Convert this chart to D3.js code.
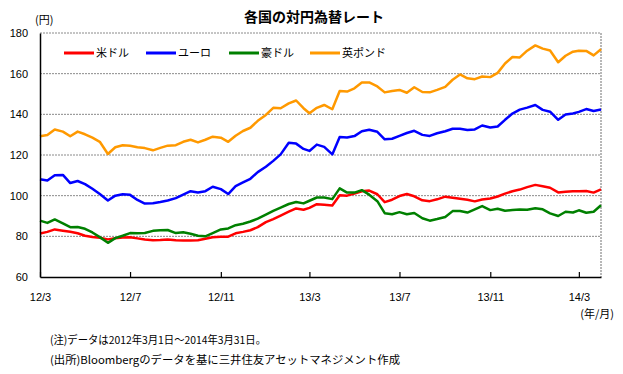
<!DOCTYPE html>
<html>
<head>
<meta charset="utf-8">
<script src="https://cdn.jsdelivr.net/npm/d3@7"></script>
<style>
  body { margin: 0; background: #fff; }
  svg { display: block; font-family: "Noto Sans CJK JP", "Noto Sans", sans-serif; }
</style>
</head>
<body>
<svg id="chart" width="623" height="374"></svg>
<script>
// sample dates (1st, 11th, 21st of each month)
const dates = [
  "2012-03-01","2012-03-11","2012-03-21","2012-04-01","2012-04-11","2012-04-21",
  "2012-05-01","2012-05-11","2012-05-21","2012-06-01","2012-06-11","2012-06-21",
  "2012-07-01","2012-07-11","2012-07-21","2012-08-01","2012-08-11","2012-08-21",
  "2012-09-01","2012-09-11","2012-09-21","2012-10-01","2012-10-11","2012-10-21",
  "2012-11-01","2012-11-11","2012-11-21","2012-12-01","2012-12-11","2012-12-21",
  "2013-01-01","2013-01-11","2013-01-21","2013-02-01","2013-02-11","2013-02-21",
  "2013-03-01","2013-03-11","2013-03-21","2013-04-01","2013-04-11","2013-04-21",
  "2013-05-01","2013-05-11","2013-05-21","2013-06-01","2013-06-11","2013-06-21",
  "2013-07-01","2013-07-11","2013-07-21","2013-08-01","2013-08-11","2013-08-21",
  "2013-09-01","2013-09-11","2013-09-21","2013-10-01","2013-10-11","2013-10-21",
  "2013-11-01","2013-11-11","2013-11-21","2013-12-01","2013-12-11","2013-12-21",
  "2014-01-01","2014-01-11","2014-01-21","2014-02-01","2014-02-11","2014-02-21",
  "2014-03-01","2014-03-11","2014-03-21","2014-03-31"
];

const usd = [
  81.4, 82.2, 83.4, 82.8, 82.3, 81.5, 80.3, 79.7, 79.3, 78.5, 79.1, 79.4,
  79.6, 79.0, 78.4, 78.1, 78.2, 78.5, 78.1, 77.9, 77.9, 78.1, 78.8, 79.5,
  79.8, 79.8, 81.5, 82.2, 83.0, 84.5, 87.0, 88.5, 90.2, 92.1, 93.7, 93.1,
  94.0, 95.8, 95.5, 95.2, 100.2, 100.0, 101.0, 102.2, 102.5, 100.7, 96.8, 98.0,
  99.8, 100.8, 99.7, 97.7, 97.3, 98.2, 99.5, 99.0, 98.5, 98.0, 97.2, 98.1,
  98.6, 99.6, 101.0, 102.2, 103.0, 104.2, 105.3, 104.6, 103.9, 101.6, 101.9, 102.2,
  102.2, 102.3, 101.5, 103.1
];
const eur = [
  108.1, 107.5, 110.0, 110.2, 106.2, 107.2, 105.7, 103.4, 100.8, 97.6, 100.0, 100.7,
  100.4, 97.9, 96.1, 96.3, 96.9, 97.6, 98.8, 100.5, 102.2, 101.6, 102.2, 104.4,
  103.2, 100.8, 104.7, 106.5, 108.3, 111.6, 114.2, 117.1, 120.3, 126.0, 125.6, 123.0,
  122.0, 125.1, 124.0, 120.3, 128.8, 128.6, 129.3, 131.7, 132.4, 131.4, 127.7, 128.0,
  129.4, 130.8, 131.9, 129.9, 129.4, 130.7, 131.7, 132.9, 132.9, 132.3, 132.6, 134.5,
  133.5, 134.0, 137.3, 140.4, 142.3, 143.3, 144.6, 142.2, 141.3, 137.3, 139.9, 140.4,
  141.2, 142.6, 141.6, 142.4
];
const aud = [
  87.7, 86.6, 88.3, 86.4, 84.5, 84.6, 83.7, 81.9, 79.6, 76.8, 79.1, 80.3,
  81.6, 81.5, 81.6, 82.7, 83.0, 83.1, 81.6, 82.0, 81.3, 80.3, 80.0, 81.6,
  83.4, 83.9, 85.5, 86.2, 87.3, 88.7, 90.7, 92.5, 94.1, 95.9, 96.9, 96.2,
  97.5, 99.1, 99.1, 98.3, 103.6, 101.5, 101.5, 102.7, 100.5, 97.3, 91.4, 90.9,
  91.9, 90.9, 91.5, 88.9, 87.7, 88.5, 89.5, 92.4, 92.5, 91.7, 93.3, 94.9,
  92.9, 93.6, 92.6, 92.9, 93.2, 93.1, 93.8, 93.3, 91.3, 90.0, 92.1, 91.7,
  92.8, 91.6, 92.1, 95.3
];
const gbp = [
  129.2, 129.8, 132.5, 131.5, 129.2, 131.5, 130.2, 128.5, 126.5, 120.5, 123.8, 124.8,
  124.5, 123.8, 123.4, 122.3, 123.5, 124.6, 124.8, 126.5, 127.5, 126.2, 127.5, 129.0,
  128.5, 126.5, 129.5, 131.8, 133.4, 136.8, 139.7, 143.2, 143.0, 145.4, 146.8, 143.0,
  140.5, 143.2, 144.6, 142.5, 151.5, 151.2, 152.8, 155.6, 155.7, 153.7, 150.8, 151.5,
  152.0, 150.6, 153.3, 151.0, 150.8, 152.0, 153.5, 157.0, 159.6, 157.7, 157.3, 158.6,
  158.3, 160.4, 165.0, 168.2, 168.0, 171.3, 173.9, 172.3, 171.4, 165.6, 168.8, 170.8,
  171.3, 171.2, 169.0, 172.0
];

const seriesNames = ["米ドル", "ユーロ", "豪ドル", "英ポンド"];
const seriesColors = ["#ff0000", "#0000ff", "#008000", "#ff9900"];
const seriesValues = [usd, eur, aud, gbp];

const yTicks = [60, 80, 100, 120, 140, 160, 180];
const xTicks = ["2012-03-01", "2012-07-01", "2012-11-01", "2013-03-01", "2013-07-01", "2013-11-01", "2014-03-01"];

const notes = [
  "(注)データは2012年3月1日～2014年3月31日。",
  "(出所)Bloombergのデータを基に三井住友アセットマネジメント作成"
];
const noteWidths = [216, 350];

const parse = d3.timeParse("%Y-%m-%d");
const svg = d3.select("#chart");

const margin = { left: 40, right: 22, top: 33, bottom: 97 };
const W = 623, H = 374;

const x = d3.scaleTime()
  .domain([parse("2012-03-01"), parse("2014-03-31")])
  .range([margin.left, W - margin.right]);
const y = d3.scaleLinear()
  .domain([60, 180])
  .range([H - margin.bottom, margin.top]);

// grid lines
svg.append("g")
  .selectAll("line")
  .data(yTicks.filter(v => v > 60))
  .join("line")
  .attr("x1", x.range()[0]).attr("x2", x.range()[1])
  .attr("y1", d => y(d)).attr("y2", d => y(d))
  .attr("stroke", "#8a8a8a")
  .attr("stroke-dasharray", "2,1")
  .attr("stroke-width", 1);

// right border
svg.append("line")
  .attr("x1", x.range()[1]).attr("x2", x.range()[1])
  .attr("y1", y(180)).attr("y2", y(60))
  .attr("stroke", "#707070")
  .attr("stroke-dasharray", "2,1");

// lines
const line = d3.line()
  .x((d, i) => x(parse(dates[i])))
  .y(d => y(d));

seriesValues.forEach((vals, i) => {
  svg.append("path")
    .datum(vals)
    .attr("fill", "none")
    .attr("stroke", seriesColors[i])
    .attr("stroke-width", 2.5)
    .attr("stroke-linejoin", "round")
    .attr("d", line);
});

// axes
const yAxis = svg.append("g")
  .attr("transform", `translate(${margin.left},0)`)
  .call(d3.axisLeft(y).tickValues(yTicks).tickSize(0).tickPadding(12));
yAxis.select(".domain").attr("stroke", "#000").attr("stroke-width", 1.5);
yAxis.selectAll("text").attr("font-size", 11).attr("fill", "#000");

const xAxis = svg.append("g")
  .attr("transform", `translate(0,${H - margin.bottom})`)
  .call(d3.axisBottom(x)
    .tickValues(xTicks.map(parse))
    .tickFormat(d3.timeFormat("%y/%-m"))
    .tickSizeInner(-5).tickSizeOuter(0).tickPadding(16));
xAxis.select(".domain").attr("stroke", "#000").attr("stroke-width", 1.5);
xAxis.selectAll(".tick line").attr("stroke", "#000").attr("stroke-width", 1.2);
xAxis.selectAll("text").attr("font-size", 11).attr("fill", "#000");

// title
svg.append("text")
  .attr("x", 314).attr("y", 22)
  .attr("text-anchor", "middle")
  .attr("font-size", 14).attr("font-weight", "bold")
  .text("各国の対円為替レート");

svg.append("text")
  .attr("x", 35).attr("y", 24)
  .attr("font-size", 11)
  .text("(円)");

svg.append("text")
  .attr("x", 614).attr("y", 318)
  .attr("text-anchor", "end")
  .attr("font-size", 11)
  .text("(年/月)");

// legend
const legendX = [64, 146, 229, 310];
const legend = svg.append("g");
seriesNames.forEach((name, i) => {
  legend.append("line")
    .attr("x1", legendX[i]).attr("x2", legendX[i] + 30)
    .attr("y1", 53).attr("y2", 53)
    .attr("stroke", seriesColors[i])
    .attr("stroke-width", 3);
  legend.append("text")
    .attr("x", legendX[i] + 32).attr("y", 57)
    .attr("font-size", 11)
    .text(name);
});

// notes
svg.selectAll(".note")
  .data(notes)
  .join("text")
  .attr("class", "note")
  .attr("x", 50)
  .attr("y", (d, i) => 344 + i * 20)
  .attr("font-size", 11)
  .attr("textLength", (d, i) => noteWidths[i])
  .attr("lengthAdjust", "spacingAndGlyphs")
  .text(d => d);
</script>
</body>
</html>
